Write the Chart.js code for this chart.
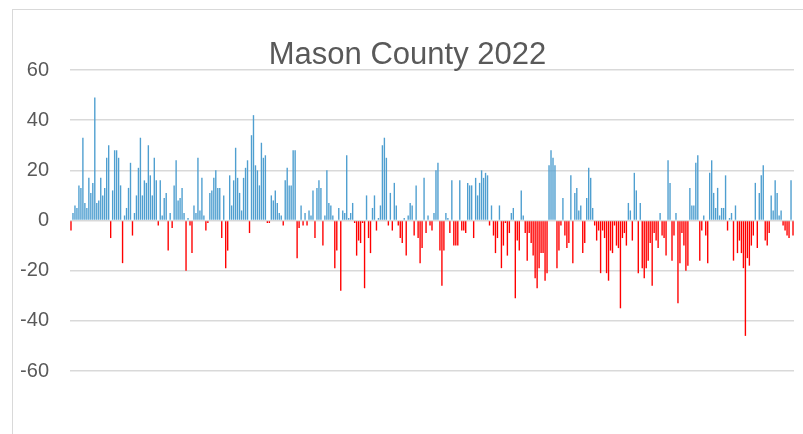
<!DOCTYPE html>
<html>
<head>
<meta charset="utf-8">
<script src="https://cdn.jsdelivr.net/npm/chart.js@4/dist/chart.umd.min.js"></script>
<style>
  html, body { margin: 0; padding: 0; background: #fff; overflow: hidden; }
  #frame { position: absolute; left: 12px; top: 9px; width: 900px; height: 500px; border: 1px solid #d9d9d9; }
  #wrap { position: absolute; left: 0; top: 0; width: 803px; height: 434px; }
</style>
</head>
<body>
<div id="frame"></div>
<div id="wrap"><canvas id="myChart" width="803" height="434"></canvas></div>
<script>
// daily values for 2022
const jan = [-4,3,6,5,14,13,33,7,5,17,11,15,49,7,8,17,10,13,25,30,-7,12,28,28,25,14,-17,2,5,13,23];
const feb = [-6,3,10,21,33,10,16,15,30,18,10,25,16,-2,16,2,9,11,-12,3,-3,14,24,8,9,13,3,-20];
const mar = [1,-2,-13,6,3,25,4,17,2,-4,-1,11,12,17,20,13,13,-7,10,-19,-12,18,6,16,29,17,11,4,17,21,24];
const apr = [-5,34,42,22,20,14,31,25,26,-1,-1,10,8,12,7,3,2,-2,16,21,14,14,28,28,-15,-3,6,-2,3,-2];
const may = [4,2,12,-7,13,16,13,-10,2,20,7,6,2,-19,-12,5,-28,4,3,26,1,3,7,-1,-14,-8,-9,-1,-27,10,-7];
const jun = [-13,5,10,-4,1,6,30,33,25,-2,11,-4,15,6,-2,-7,-9,1,-14,2,7,6,-6,14,-7,-17,-11,17,-5,2];
const jul = [-2,-4,3,20,23,-12,-26,-12,3,1,-5,16,-10,-10,-10,16,-4,-4,-5,15,14,14,-7,17,10,15,20,17,19,18,-2];
const aug = [6,-6,-13,-7,6,-19,-10,-1,-14,-5,3,5,-31,-8,-12,12,2,-5,-16,-5,-9,-14,-23,-27,-19,-13,-13,-24,-21,22,28];
const sep = [25,22,-19,-12,-2,9,-6,-11,-9,18,-17,11,13,4,6,-13,-9,9,21,17,5,-2,-8,-4,-21,-4,-7,-21,-24,-12];
const oct = [-13,-2,-10,-11,-35,-7,-5,-10,7,4,-8,19,12,-21,7,-19,-23,-19,-16,-9,-26,-5,-8,-11,3,-6,-7,-14,24,15,-16];
const nov = [-6,3,-33,-17,-5,-10,-20,-18,13,6,6,23,26,-16,-4,2,-6,-17,19,24,11,5,13,2,5,5,18,-4,1,3];
const dec = [-16,6,-13,-8,-13,-19,-46,-15,-18,-10,-6,15,-11,11,18,22,-8,-10,-5,10,4,16,11,2,4,-2,-4,-6,-7,16,-6];

const values = [].concat(jan, feb, mar, apr, may, jun, jul, aug, sep, oct, nov, dec);
const days = values.map((v, i) => 'Day ' + (i + 1));
const yTicks = [-60, -40, -20, 0, 20, 40, 60];

const ctx = document.getElementById('myChart').getContext('2d');
const myChart = new Chart(ctx, {
    type: 'bar',
    data: {
        labels: days,
        datasets: [{
            label: 'Mason County 2022',
            data: values,
            backgroundColor: values.map(v => v < 0 ? '#ff0000' : '#4f9fd0'),
            borderWidth: 0,
            barPercentage: 1,
            categoryPercentage: 0.7
        }]
    },
    options: {
        responsive: false,
        animation: false,
        layout: { padding: { left: 21, right: 9, top: 0, bottom: 63 } },
        plugins: {
            legend: { display: false },
            tooltip: { enabled: false },
            title: {
                display: true,
                text: 'Mason County 2022',
                color: '#595959',
                font: { family: 'Liberation Sans', size: 31, weight: 'normal', lineHeight: 0.9 },
                padding: { top: 41.5, bottom: 0.6 }
            }
        },
        scales: {
            x: { display: false },
            y: {
                min: -60,
                max: 60,
                afterFit: function(axis) { axis.width = 49; },
                afterBuildTicks: function(axis) { axis.ticks = yTicks.map(v => ({ value: v })); },
                border: { display: false },
                grid: { color: '#d9d9d9', lineWidth: 1.5, drawTicks: false },
                ticks: {
                    color: '#595959',
                    padding: 21,
                    font: { family: 'Liberation Sans', size: 20 }
                }
            }
        }
    }
});
</script>
</body>
</html>
